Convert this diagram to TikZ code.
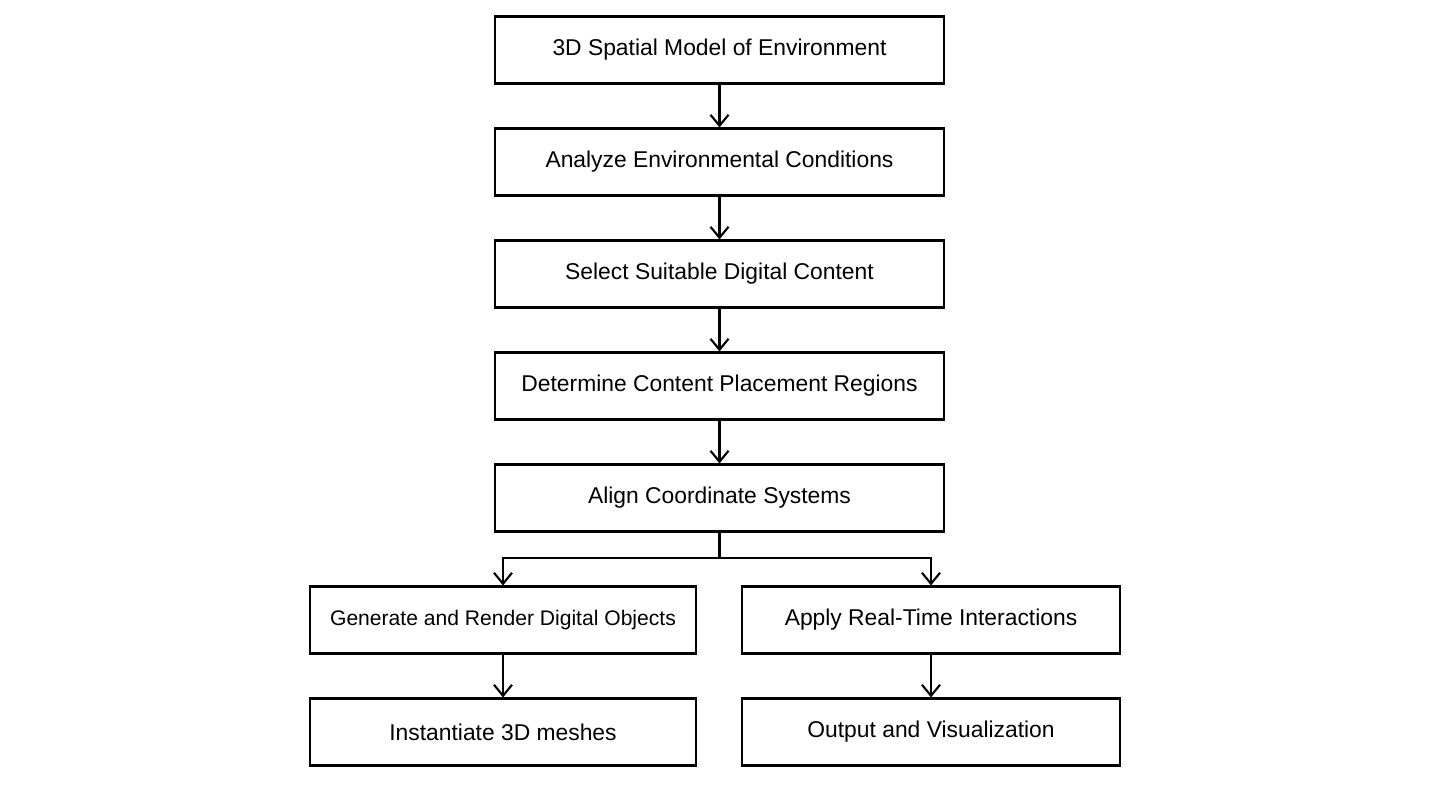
\documentclass[tikz,border=0pt]{standalone}
\usepackage{fontspec}
\setmainfont{Liberation Sans}
\usetikzlibrary{arrows.meta}

\tikzset{
	stage/.style={draw,line width=1.2pt,minimum height=1.34cm,inner sep=0pt,font=\fontsize{13}{15}\selectfont},
	flow/.style={line width=1.2pt,-{Straight Barb[length=2.2mm,width=3.6mm]}}
}

\begin{document}
\begin{tikzpicture}
	\useasboundingbox (0,0) rectangle (28.8,15.7);
	\node[stage,minimum width=8.98cm] (model) at (14.39,14.7) {3D Spatial Model of Environment};
	\node[stage,minimum width=8.98cm] (analyze) at (14.39,12.46) {Analyze Environmental Conditions};
	\node[stage,minimum width=8.98cm] (select) at (14.39,10.22) {Select Suitable Digital Content};
	\node[stage,minimum width=8.98cm] (place) at (14.39,7.98) {Determine Content Placement Regions};
	\node[stage,minimum width=8.98cm] (align) at (14.39,5.74) {Align Coordinate Systems};
	\node[stage,minimum width=7.72cm,font=\fontsize{12}{14}\selectfont] (render) at (10.06,3.3) {Generate and Render Digital Objects};
	\node[stage,minimum width=7.56cm] (interact) at (18.62,3.3) {Apply Real-Time Interactions};
	\node[stage,minimum width=7.72cm] (mesh) at (10.06,1.06) {Instantiate 3D meshes};
	\node[stage,minimum width=7.56cm] (output) at (18.62,1.06) {Output and Visualization};
	\coordinate (split) at (14.39,4.54);
	%connectors
	\draw[flow] (model) -- (analyze);
	\draw[flow] (analyze) -- (select);
	\draw[flow] (select) -- (place);
	\draw[flow] (place) -- (align);
	\draw[line width=1.2pt] (align) -- (split);
	\draw[flow] (split) -| (render);
	\draw[flow] (split) -| (interact);
	\draw[flow] (render) -- (mesh);
	\draw[flow] (interact) -- (output);
\end{tikzpicture}
\end{document}
